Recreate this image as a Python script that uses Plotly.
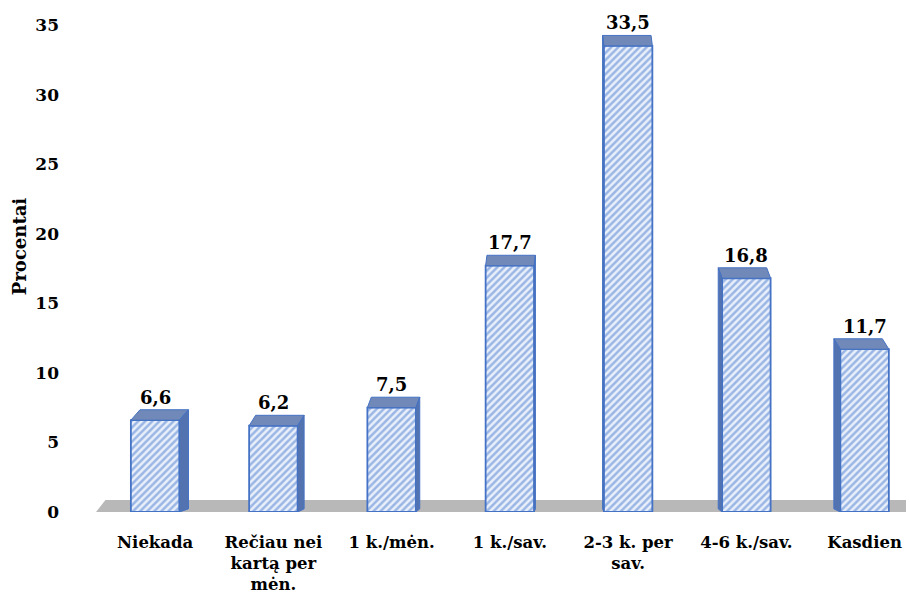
import plotly.graph_objects as go

# Survey answers: how often respondents do the activity (percent of respondents)
categories = ["Niekada", "Rečiau nei<br>kartą per<br>mėn.", "1 k./mėn.", "1 k./sav.",
              "2-3 k. per<br>sav.", "4-6 k./sav.", "Kasdien"]
values = [6.6, 6.2, 7.5, 17.7, 33.5, 16.8, 11.7]
value_labels = ["6,6", "6,2", "7,5", "17,7", "33,5", "16,8", "11,7"]
y_ticks = [0, 5, 10, 15, 20, 25, 30, 35]

FONT = "DejaVu Serif"
EDGE = "#4472c4"
TOP_FACE = "#7189b8"
SIDE_FACE = "#5373b0"
FLOOR = "#b8b8b8"

x_pos = list(range(len(categories)))
bar_w = 0.41
half = bar_w / 2
depth_y = 0.75           # receding depth of the 3D box, in value units
vanish_x = 3.5           # horizontal point the boxes recede towards
k_depth = 0.022


def bold(s):
    return "<b>" + s.replace("<br>", "</b><br><b>") + "</b>"


fig = go.Figure()
fig.add_trace(go.Bar(
    x=x_pos, y=values, width=bar_w,
    marker=dict(
        color="#eef3fb",
        line=dict(color=EDGE, width=1.8),
        pattern=dict(shape="/", fgcolor="#4a7bd0", bgcolor="#eaf0fa",
                     size=5, solidity=0.5),
    ),
    hoverinfo="skip",
))

shapes = []
# grey floor under the bars
shapes.append(dict(
    type="path", xref="x", yref="y", layer="below",
    path="M -0.5,0 L 6.6,0 L 6.6,0.86 L -0.42,0.86 Z",
    fillcolor=FLOOR, line=dict(width=0),
))

annotations = []
for xi, v, lab in zip(x_pos, values, value_labels):
    dx = k_depth * (vanish_x - xi)
    l, r = xi - half, xi + half
    # top face
    shapes.append(dict(
        type="path", xref="x", yref="y", layer="above",
        path=f"M {l},{v} L {r},{v} L {r+dx},{v+depth_y} L {l+dx},{v+depth_y} Z",
        fillcolor=TOP_FACE, line=dict(color=EDGE, width=1),
    ))
    # visible side face
    if dx > 0.005:
        shapes.append(dict(
            type="path", xref="x", yref="y", layer="above",
            path=f"M {r},0 L {r},{v} L {r+dx},{v+depth_y} L {r+dx},{depth_y*0.3} Z",
            fillcolor=SIDE_FACE, line=dict(color=EDGE, width=1),
        ))
    elif dx < -0.005:
        shapes.append(dict(
            type="path", xref="x", yref="y", layer="above",
            path=f"M {l},0 L {l},{v} L {l+dx},{v+depth_y} L {l+dx},{depth_y*0.3} Z",
            fillcolor=SIDE_FACE, line=dict(color=EDGE, width=1),
        ))
    annotations.append(dict(
        x=xi, y=v + depth_y, xref="x", yref="y", text=bold(lab), showarrow=False,
        yanchor="bottom", yshift=0,
        font=dict(family=FONT, size=18, color="black"),
    ))

annotations.append(dict(
    x=-0.095, y=0.546, xref="paper", yref="paper", text=bold("Procentai"),
    textangle=-90, showarrow=False, xanchor="center", yanchor="middle",
    font=dict(family=FONT, size=18, color="black"),
))

fig.update_layout(
    width=910, height=600,
    margin=dict(l=96, r=4, t=25, b=88),
    paper_bgcolor="white", plot_bgcolor="white",
    showlegend=False,
    shapes=shapes, annotations=annotations,
    xaxis=dict(
        range=[-0.5, 6.35], tickmode="array", tickvals=x_pos,
        ticktext=[bold(c) for c in categories],
        showgrid=False, zeroline=False, showline=False, ticks="",
        ticklabelstandoff=18,
        tickfont=dict(family=FONT, size=16.5, color="black"),
    ),
    yaxis=dict(
        range=[0, 35], tickmode="array", tickvals=y_ticks,
        ticktext=[bold(str(t)) for t in y_ticks],
        showgrid=False, zeroline=False, showline=False, ticks="",
        ticklabelstandoff=36,
        tickfont=dict(family=FONT, size=17, color="black"),
    ),
)

fig.write_html("out.html")
